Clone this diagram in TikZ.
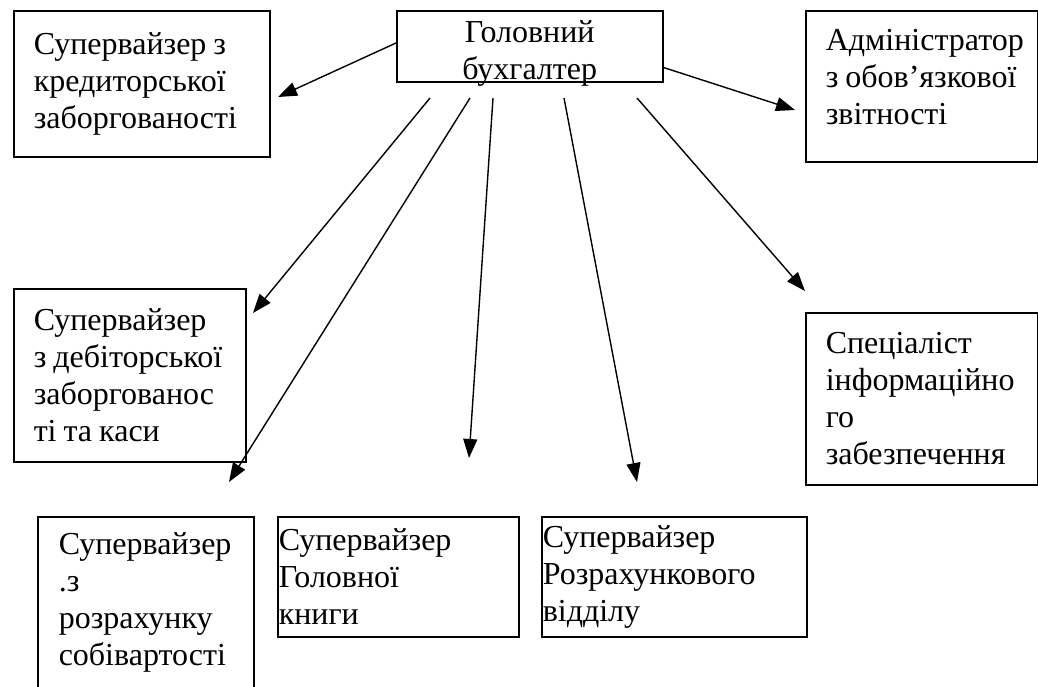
\documentclass[tikz,border=0pt]{standalone}
\usepackage{fontspec}
\setmainfont{Liberation Serif}
\usetikzlibrary{arrows.meta, positioning}
\newcommand{\gap}{\hspace{7pt}}
\tikzset{%
	post/.style={
		draw,
		line width=1.5pt,
		anchor=north west,
		align=left,
		inner ysep=0pt,
		font=\fontsize{32}{37}\selectfont
	},
	link/.style={
		-{Triangle[length=19pt,width=14pt]},
		line width=1.4pt
	},
}

\begin{document}
\begin{tikzpicture}[x=1pt,y=-1pt]
			\useasboundingbox (0,0) rectangle (1038,686);
			\clip (0,0) rectangle (1038,686);
			
			% Head of accounts
			\node[post, minimum width=266pt, minimum height=71pt, inner xsep=0pt,
				label={[name=headtext, align=center, font=\fontsize{32}{37}\selectfont, yshift=-7pt]center:Головний\\бухгалтер}] (head) at (396,10) {};
			
			% Top row
			\node[post, text width=216pt, inner xsep=20pt, minimum height=146pt] (kred) at (13,10) {\mbox{Супервайзер\gap з}\\кредиторської\\заборгованості};
			\node[post, text width=192pt, inner xsep=20pt, minimum height=151pt] (admin) at (805,10) {Адміністратор\\\mbox{з\gap обов’язкової}\\звітності\rule[-18pt]{0pt}{0pt}};
			
			% Middle row
			\node[post, text width=192pt, inner xsep=20pt, minimum height=173pt] (debit) at (13,288) {Супервайзер\\\mbox{з\gap дебіторської}\\заборгованос\\\mbox{ті\gap та\gap каси}};
			\node[post, text width=192pt, inner xsep=20pt, minimum height=172pt] (spec) at (805,312) {Спеціаліст\\інформаційно\\го\\забезпечення};
			
			% Bottom row
			\node[post, text width=174pt, inner xsep=21pt, minimum height=172pt] (sobiv) at (37,516) {Супервайзер\\.з\\розрахунку\\собівартості};
			\node[post, text width=239pt, inner xsep=1pt, minimum height=120pt] (knyha) at (277,516) {Супервайзер\\Головної\\книги};
			\node[post, text width=263pt, inner xsep=1pt, minimum height=120pt] (rozr) at (541,516) {Супервайзер\\Розрахункового\\відділу};
			
			% Arrow ends
			\coordinate (kredOut) at (396,43);
			\coordinate (kredIn) at (278,97);
			\coordinate (adminOut) at (662,67);
			\coordinate (adminIn) at (795,110);
			\coordinate (debitOut) at (430,98);
			\coordinate (debitIn) at (253,313);
			\coordinate (sobivOut) at (470,98);
			\coordinate (sobivIn) at (229,482);
			\coordinate (knyhaOut) at (493,98);
			\coordinate (knyhaIn) at (469,458);
			\coordinate (rozrOut) at (564,98);
			\coordinate (rozrIn) at (637,482);
			\coordinate (specOut) at (637,98);
			\coordinate (specIn) at (805,291);
			
			\draw[link] (kredOut) -- (kredIn);
			\draw[link] (adminOut) -- (adminIn);
			\draw[link] (debitOut) -- (debitIn);
			\draw[link] (sobivOut) -- (sobivIn);
			\draw[link] (knyhaOut) -- (knyhaIn);
			\draw[link] (rozrOut) -- (rozrIn);
			\draw[link] (specOut) -- (specIn);
\end{tikzpicture}
\end{document}
